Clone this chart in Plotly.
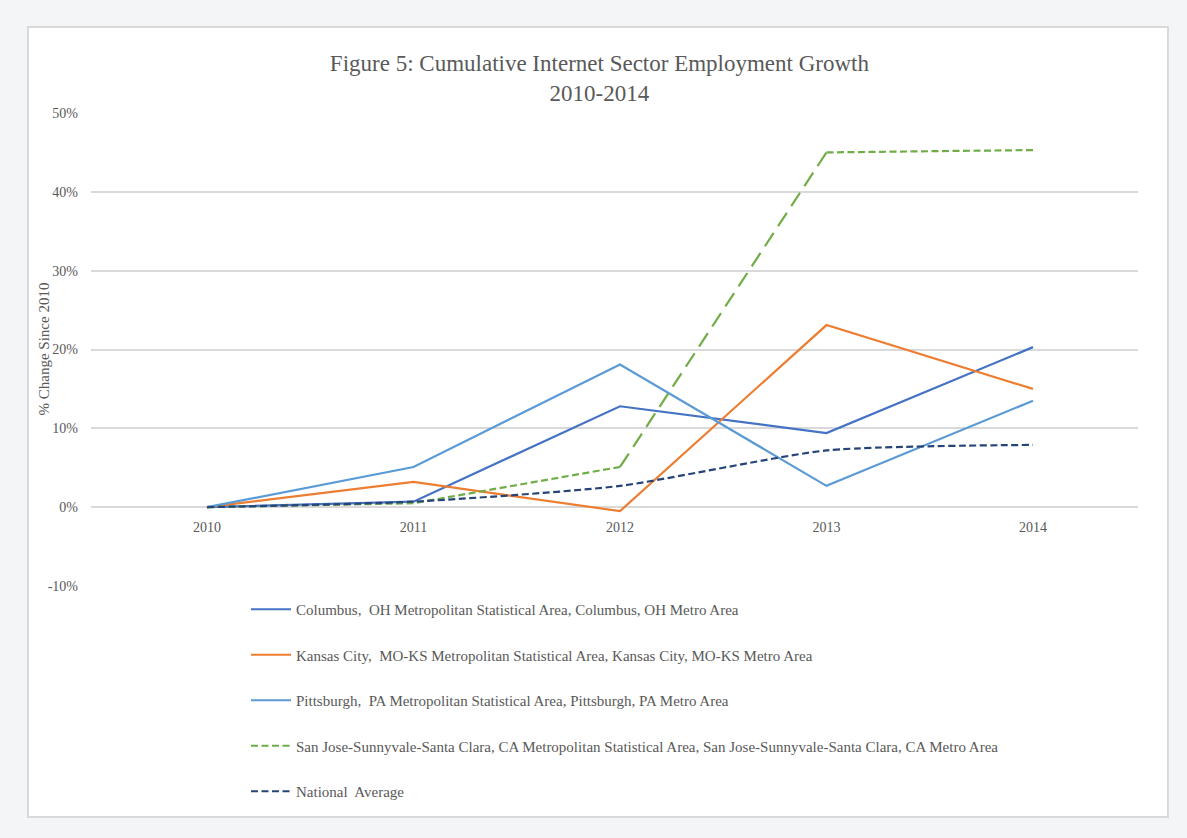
import plotly.graph_objects as go

# Cumulative internet-sector employment change since 2010, per metro area
years = [2010, 2011, 2012, 2013, 2014]
columbus = [0.0, 0.007, 0.128, 0.094, 0.203]
kansas_city = [0.0, 0.032, -0.005, 0.231, 0.150]
pittsburgh = [0.0, 0.051, 0.181, 0.027, 0.135]
san_jose = [0.0, 0.005, 0.051, 0.450, 0.453]
national = [0.0, 0.007, 0.027, 0.072, 0.079]

y_ticks = [-0.1, 0.0, 0.1, 0.2, 0.3, 0.4, 0.5]
y_tick_labels = ["-10%", "0%", "10%", "20%", "30%", "40%", "50%"]

series_names = [
    "Columbus,  OH Metropolitan Statistical Area, Columbus, OH Metro Area",
    "Kansas City,  MO-KS Metropolitan Statistical Area, Kansas City, MO-KS Metro Area",
    "Pittsburgh,  PA Metropolitan Statistical Area, Pittsburgh, PA Metro Area",
    "San Jose-Sunnyvale-Santa Clara, CA Metropolitan Statistical Area, San Jose-Sunnyvale-Santa Clara, CA Metro Area",
    "National  Average",
]
series_colors = ["#4472C4", "#ED7D31", "#5B9BD5", "#70AD47", "#264478"]

FONT = "Liberation Serif, Times New Roman, serif"
TEXT = "#595959"
GRID = "#d9d9d9"
SHORT_DASH = "7px,3.5px"
LONG_DASH = "16px,8px"

fig = go.Figure()

def add_line(x, y, i, dash="solid", shape="linear", legend=True):
    fig.add_trace(go.Scatter(
        x=x, y=y, name=series_names[i], mode="lines",
        legendgroup=f"g{i}", showlegend=legend,
        line=dict(color=series_colors[i], width=2.2, dash=dash,
                  shape=shape, smoothing=0.6),
        hoverinfo="skip",
    ))

add_line(years, columbus, 0)
add_line(years, kansas_city, 1)
add_line(years, pittsburgh, 2)
# San Jose: the steep 2012-2013 run is drawn with a stretched dash
add_line(years[:3], san_jose[:3], 3, dash=SHORT_DASH)
add_line(years[2:4], san_jose[2:4], 3, dash=LONG_DASH, legend=False)
add_line(years[3:], san_jose[3:], 3, dash=SHORT_DASH, legend=False)
add_line(years, national, 4, dash=SHORT_DASH, shape="spline")

# plot-area geometry in pixels (for the surrounding frame)
W, H = 1187, 838
L, R, T, B = 91, 49, 113, 252
pw, ph = W - L - R, H - T - B

def px_x(x):
    return (x - L) / pw

def px_y(y):
    return (H - B - y) / ph

fig.add_shape(type="rect", xref="paper", yref="paper",
              x0=px_x(28), x1=px_x(1168), y0=px_y(817), y1=px_y(27),
              fillcolor="white", line=dict(color=GRID, width=2), layer="below")

# vertical axis caption
fig.add_annotation(text="% Change Since 2010", xref="paper", yref="paper",
                   x=px_x(43), y=0.5, xanchor="center", yanchor="middle",
                   textangle=-90, showarrow=False,
                   font=dict(family=FONT, size=15, color=TEXT))

fig.update_layout(
    width=W, height=H,
    margin=dict(l=L, r=R, t=T, b=B),
    paper_bgcolor="#f4f5f7",
    plot_bgcolor="rgba(0,0,0,0)",
    font=dict(family=FONT, color=TEXT, size=14),
    title=dict(text="Figure 5: Cumulative Internet Sector Employment Growth<br>2010-2014",
               x=0.505, xanchor="center", yref="container", y=1 - 71 / H, yanchor="middle",
               font=dict(family=FONT, size=23, color=TEXT)),
    showlegend=True,
    legend=dict(orientation="v", x=px_x(246), xanchor="left",
                y=px_y(593), yanchor="top", tracegroupgap=23,
                font=dict(family=FONT, size=15, color=TEXT),
                bgcolor="rgba(0,0,0,0)", itemwidth=40),
    xaxis=dict(range=[2010 - (207 - 91) / 206.5, 2014 + (1138 - 1033) / 206.5],
               tickvals=years, ticktext=[str(y) for y in years],
               showgrid=False, zeroline=False, showline=False, ticks="",
               anchor="free", position=0.1 / 0.6, ticklabelstandoff=10,
               tickfont=dict(family=FONT, size=14, color=TEXT)),
    yaxis=dict(range=[-0.1, 0.5], tickvals=y_ticks, ticktext=y_tick_labels,
               showgrid=True, gridcolor=GRID, gridwidth=2,
               zeroline=False, showline=False, ticks="",
               ticklabelstandoff=12,
               tickfont=dict(family=FONT, size=14, color=TEXT)),
)

fig.write_html("out.html")
